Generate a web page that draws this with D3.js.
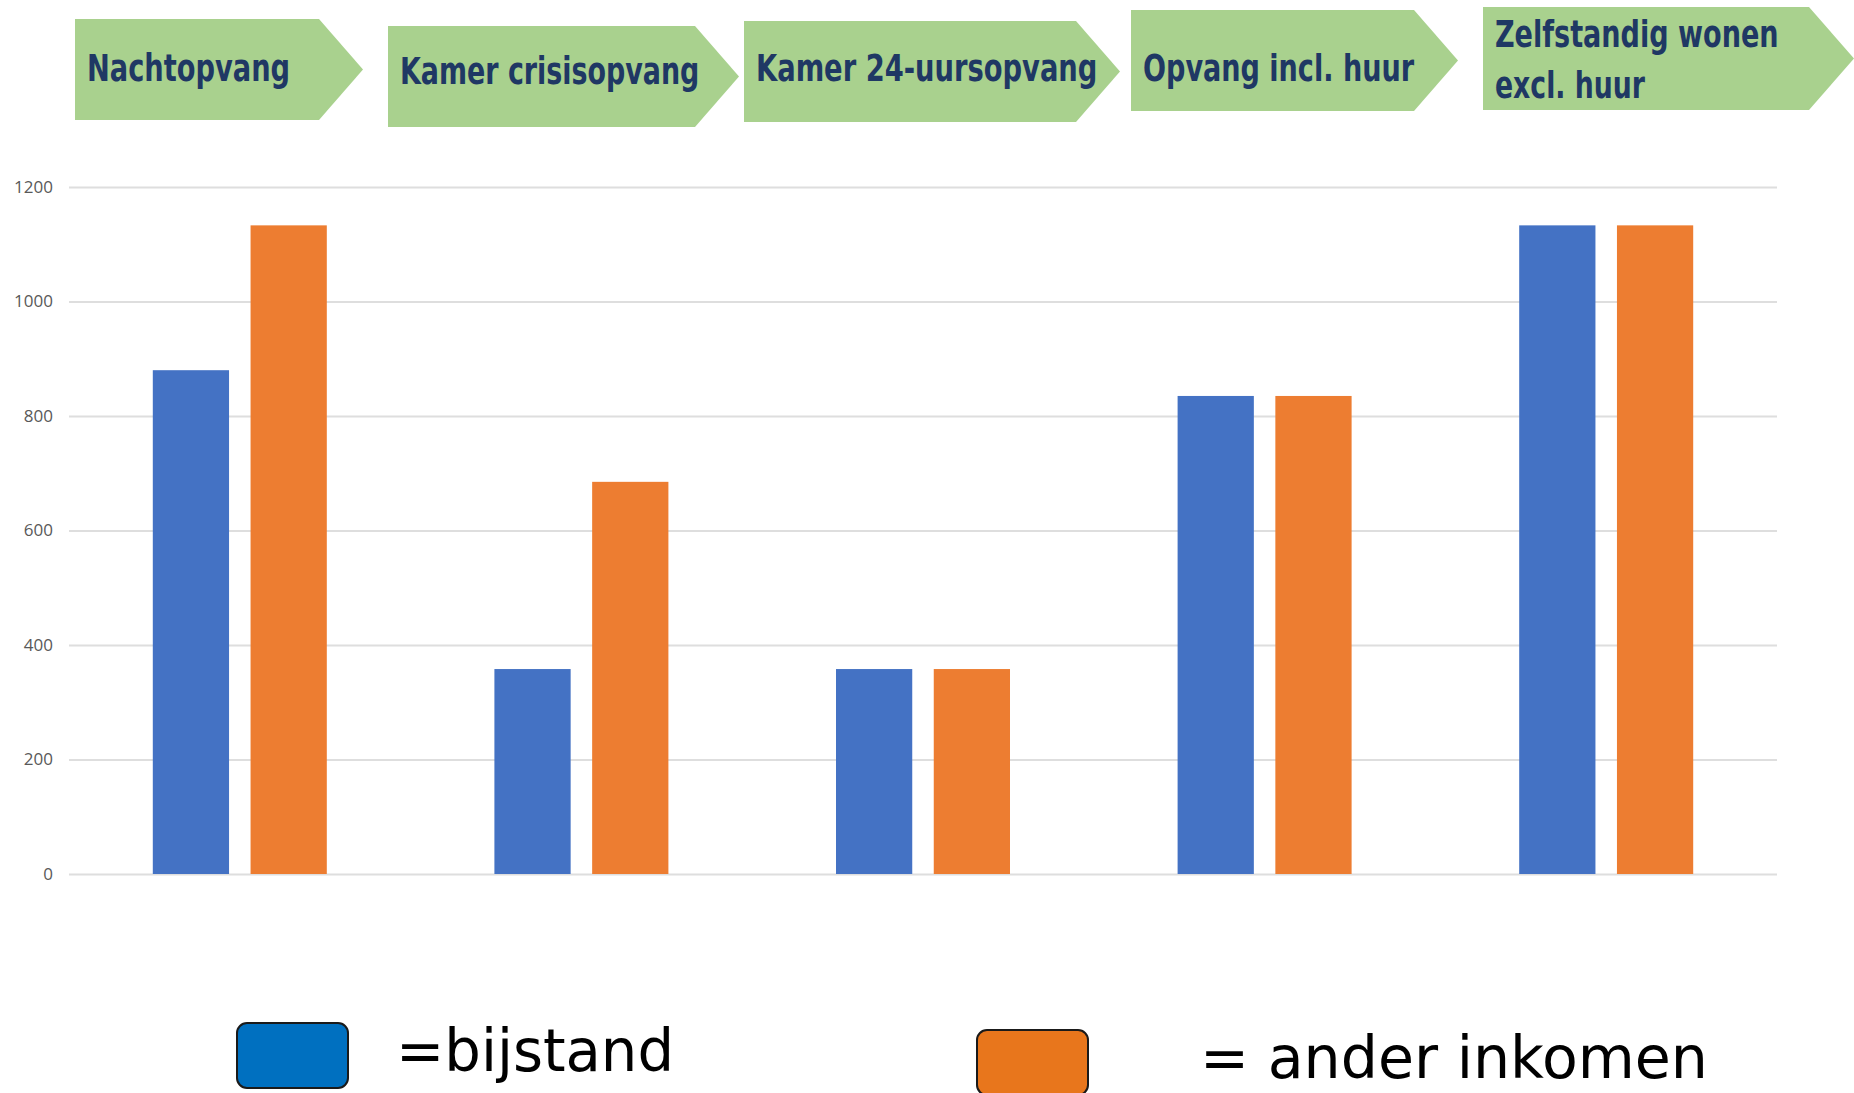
<!DOCTYPE html>
<html>
<head>
<meta charset="utf-8">
<script src="https://cdn.jsdelivr.net/npm/d3@7"></script>
<style>
  html, body { margin: 0; padding: 0; background: #fff; }
  svg { display: block; }
</style>
</head>
<body>
<svg id="chart"></svg>
<script>
const width = 1854;
const height = 1093;

// data
const categories = ["Nachtopvang", "Kamer crisisopvang", "Kamer 24-uursopvang", "Opvang incl. huur", "Zelfstandig wonen excl. huur"];
const series = ["bijstand", "ander inkomen"];
const bijstand = [880, 358, 358, 835, 1133];
const anderInkomen = [1133, 685, 358, 835, 1133];
const yTicks = [0, 200, 400, 600, 800, 1000, 1200];
const headerLines = [["Nachtopvang"], ["Kamer crisisopvang"], ["Kamer 24-uursopvang"], ["Opvang incl. huur"], ["Zelfstandig wonen", "excl. huur"]];
const legendLabels = ["=bijstand", "= ander inkomen"];

// layout of the green arrow banners (x, y, w, h, tip)
const banners = [
  {x: 75, y: 19, w: 244, h: 101, tip: 44, ty: [81], tw: [203]},
  {x: 388, y: 26, w: 307, h: 101, tip: 44, ty: [84], tw: [299]},
  {x: 744, y: 21, w: 332, h: 101, tip: 44, ty: [81], tw: [342]},
  {x: 1131, y: 10, w: 283, h: 101, tip: 44, ty: [81], tw: [271]},
  {x: 1483, y: 7, w: 326, h: 103, tip: 45, ty: [47, 98], tw: [284, 150]}
];

const colors = ["#4472C4", "#ED7D31"];
const legendColors = ["#0070C0", "#E8761C"];

const svg = d3.select('#chart').attr('width', width).attr('height', height);

const x0 = d3.scaleBand().domain(categories).range([69, 1777]).padding(0);
const x1 = d3.scaleBand().domain(series).range([0, 174]).paddingInner(0.22).paddingOuter(0);
const y = d3.scaleLinear().domain([0, 1200]).range([874, 187]);

// gridlines + labels
const yAxis = svg.append('g')
  .attr('transform', 'translate(69,0)')
  .call(d3.axisLeft(y).tickValues(yTicks).tickSize(-(1777 - 69)).tickPadding(16).tickFormat(d3.format('d')));
yAxis.select('.domain').remove();
yAxis.selectAll('.tick line').attr('stroke', '#dedede').attr('stroke-width', 2);
yAxis.selectAll('.tick text')
  .attr('fill', '#595959')
  .style('font-family', '"Open Sans", "Noto Sans", sans-serif')
  .style('font-size', '17px');

// bars
const rows = categories.map((c, i) => ({cat: c, vals: [bijstand[i], anderInkomen[i]]}));
const groups = svg.append('g').selectAll('g').data(rows).enter().append('g')
  .attr('transform', d => 'translate(' + (x0(d.cat) + (x0.bandwidth() - 174) / 2) + ',0)');
groups.selectAll('rect')
  .data(d => d.vals.map((v, k) => ({s: series[k], v: v, k: k})))
  .enter().append('rect')
  .attr('x', d => x1(d.s))
  .attr('width', x1.bandwidth())
  .attr('y', d => y(d.v))
  .attr('height', d => y(0) - y(d.v))
  .attr('fill', d => colors[d.k]);

// header arrows
const hdr = svg.append('g').selectAll('g').data(banners).enter().append('g');
hdr.append('path')
  .attr('d', b => 'M' + b.x + ',' + b.y + 'H' + (b.x + b.w) + 'L' + (b.x + b.w + b.tip) + ',' + (b.y + b.h / 2) +
    'L' + (b.x + b.w) + ',' + (b.y + b.h) + 'H' + b.x + 'Z')
  .attr('fill', '#A9D18E');
hdr.each(function(b, i) {
  const g = d3.select(this);
  headerLines[i].forEach((line, j) => {
    const t = g.append('text')
      .attr('x', 0)
      .attr('y', 0)
      .attr('fill', '#1F3864')
      .style('font-family', '"DejaVu Sans Condensed", "Liberation Sans Narrow", sans-serif')
      .style('font-weight', 'bold')
      .style('font-size', '40px')
      .text(line);
    // fit the width, then stretch vertically to the reference letter height
    const len = t.node().getComputedTextLength();
    const fs = Math.min(40, 40 * b.tw[j] / len);
    const k = Math.max(1, 37 / fs);
    t.style('font-size', fs.toFixed(1) + 'px')
      .attr('transform', 'translate(' + (b.x + 12) + ',' + b.ty[j] + ') scale(1,' + k.toFixed(3) + ')');
  });
});

// legend
const legendItems = [
  {bx: 237, by: 1023, tx: 396, ty: 1071, tw: 278},
  {bx: 977, by: 1030, tx: 1200, ty: 1078, tw: 508}
];
const lg = svg.append('g').selectAll('g').data(legendItems).enter().append('g');
lg.append('rect')
  .attr('x', d => d.bx).attr('y', d => d.by)
  .attr('width', 111).attr('height', 65)
  .attr('rx', 10).attr('ry', 10)
  .attr('fill', (d, i) => legendColors[i])
  .attr('stroke', '#1a1a1a').attr('stroke-width', 2);
lg.append('text')
  .attr('x', d => d.tx).attr('y', d => d.ty)
  .attr('textLength', d => d.tw)
  .attr('lengthAdjust', 'spacingAndGlyphs')
  .attr('fill', '#000')
  .style('font-family', '"DejaVu Sans", Verdana, sans-serif')
  .style('font-size', '58px')
  .text((d, i) => legendLabels[i]);
</script>
</body>
</html>
